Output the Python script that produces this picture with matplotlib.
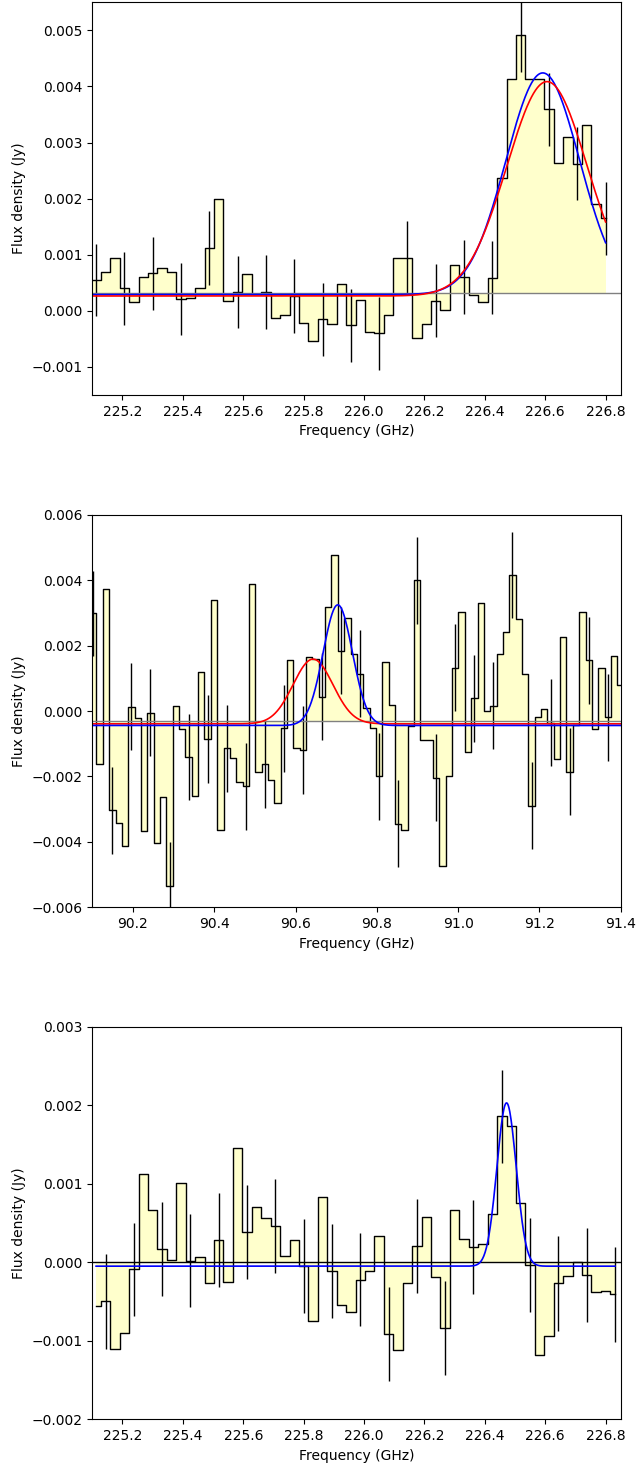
import numpy as np
import matplotlib
matplotlib.use("Agg")
import matplotlib.pyplot as plt

# channel widths (GHz)
dnu_hi = 0.03125
dnu_lo = 0.015625

# --- spectrum 1 (first point lies just outside the x range) ---
freq1 = 225.08125 + dnu_hi * np.arange(56)
flux1 = [0.00055, 0.00055, 0.00070, 0.00094, 0.00040, 0.00015, 0.00061, 0.00067,
         0.00076, 0.00070, 0.00021, 0.00023, 0.00040, 0.00112, 0.00199, 0.00018,
         0.00033, 0.00066, 0.00030, 0.00034, -0.00013, -0.00007, 0.00027, -0.00022,
         -0.00053, -0.00015, -0.00024, 0.00047, -0.00026, 0.00020, -0.00038, -0.00040,
         -0.00007, 0.00094, 0.00095, -0.00049, -0.00023, 0.00018, 0.00002, 0.00082,
         0.00061, 0.00028, 0.00016, 0.00059, 0.00237, 0.00413, 0.00491, 0.00413,
         0.00413, 0.00359, 0.00264, 0.00310, 0.00262, 0.00332, 0.00190, 0.00165]
err1 = [0.00065, 0.00065, 0.00065, 0.00064, 0.00066, 0.00064, 0.00066, 0.00066,
        0.00065, 0.00065, 0.00065, 0.00066, 0.00065, 0.00066, 0.00065, 0.00065,
        0.00065, 0.00065, 0.00065]
base1 = 0.00031
fit1_blue = (0.00029, 0.00395, 226.592, 0.122)   # cont, amp, centre, sigma
fit1_red = (0.000265, 0.00382, 226.606, 0.133)

# --- spectrum 2 ---
freq2 = 90.086875 + dnu_lo * np.arange(85)
flux2 = [0.00299, 0.00299, -0.00163, 0.00374, -0.00303, -0.00342, -0.00413, 0.00013,
         -0.00022, -0.00367, -0.00005, -0.00403, -0.00262, -0.00534, 0.00016, -0.00056,
         -0.00140, -0.00260, 0.00120, -0.00085, 0.00340, -0.00364, -0.00114, -0.00145,
         -0.00218, -0.00230, 0.00388, -0.00186, -0.00163, -0.00212, -0.00282, -0.00053,
         0.00156, -0.00114, -0.00119, 0.00166, 0.00158, 0.00044, 0.00319, 0.00479,
         0.00184, 0.00284, 0.00176, 0.00115, 0.00011, -0.00053, -0.00199, 0.00149,
         0.00018, -0.00344, -0.00364, -0.00045, 0.00400, -0.00089, -0.00089, -0.00204,
         -0.00474, -0.00199, 0.00133, 0.00302, -0.00126, 0.00039, 0.00331, 0.00000,
         0.00016, 0.00176, 0.00241, 0.00417, 0.00282, 0.00113, -0.00290, -0.00017,
         0.00006, -0.00036, -0.00146, 0.00227, -0.00186, -0.00043, 0.00302, 0.00156,
         -0.00055, 0.00131, -0.00019, 0.00169, 0.00080]
err2 = [0.00131, 0.00133, 0.00133, 0.00133, 0.00133, 0.00132, 0.00134, 0.00134,
        0.00133, 0.00133, 0.00133, 0.00134, 0.00133, 0.00133, 0.00133, 0.00133,
        0.00133, 0.00133, 0.00133, 0.00132, 0.00133, 0.00133, 0.00132, 0.00133,
        0.00133, 0.00133, 0.00133, 0.00133]
base2 = -0.00029
fit2_red = (-0.00039, 0.00198, 90.643, 0.049)
fit2_blue = (-0.00044, 0.00369, 90.704, 0.036)

# --- spectrum 3 ---
freq3 = 225.1125 + dnu_hi * np.arange(56)
flux3 = [-0.00056, -0.00050, -0.00111, -0.00090, -0.00009, 0.00112, 0.00066, 0.00017,
         0.00003, 0.00101, 0.00002, 0.00007, -0.00027, 0.00028, -0.00025, 0.00146,
         0.00039, 0.00070, 0.00056, 0.00046, 0.00008, 0.00028, -0.00005, -0.00075,
         0.00083, -0.00011, -0.00054, -0.00064, -0.00022, -0.00011, 0.00033, -0.00091,
         -0.00112, -0.00026, 0.00021, 0.00057, -0.00019, -0.00084, 0.00067, 0.00030,
         0.00019, 0.00023, 0.00061, 0.00186, 0.00173, 0.00075, -0.00004, -0.00118,
         -0.00094, -0.00027, -0.00018, 0.00000, -0.00016, -0.00038, -0.00036, -0.00041]
err3 = [0.00060, 0.00059, 0.00060, 0.00059, 0.00060, 0.00060, 0.00060, 0.00060,
        0.00060, 0.00059, 0.00060, 0.00060, 0.00060, 0.00060, 0.00059, 0.00060,
        0.00060, 0.00060, 0.00060]
base3 = 0.0
fit3_blue = (-0.00005, 0.00208, 226.472, 0.032)


def gauss(x, p):
    c, a, mu, sig = p
    return c + a * np.exp(-0.5 * ((x - mu) / sig) ** 2)


def spectrum(ax, freq, flux, err, base, fits, basecol):
    freq = np.asarray(freq)
    flux = np.asarray(flux)
    ax.fill_between(freq, flux, base, step='mid', color='#ffffcc', lw=0)
    ax.step(freq, flux, where='mid', color='k', lw=1)
    ax.errorbar(freq[1::3], flux[1::3], yerr=err, fmt='none', ecolor='k', elinewidth=1)
    ax.axhline(base, color=basecol, lw=1)
    xx = np.linspace(freq[0], freq[-1], 800)
    for p, col in fits:
        ax.plot(xx, gauss(xx, p), color=col, lw=1.2)
    ax.set_xlabel('Frequency (GHz)')
    ax.set_ylabel('Flux density (Jy)')


fig = plt.figure(figsize=(6.37, 14.68), dpi=100)
ax1 = fig.add_axes([0.1449, 0.7309, 0.8295, 0.2676])
ax2 = fig.add_axes([0.1449, 0.3820, 0.8295, 0.2672])
ax3 = fig.add_axes([0.1449, 0.0332, 0.8295, 0.2674])

spectrum(ax1, freq1, flux1, err1, base1, [(fit1_blue, 'b'), (fit1_red, 'r')], 'gray')
ax1.set_xlim(225.1, 226.85)
ax1.set_ylim(-0.0015, 0.0055)
ax1.set_xticks(np.arange(225.2, 226.81, 0.2))
ax1.set_yticks(np.arange(-0.001, 0.0051, 0.001))

spectrum(ax2, freq2, flux2, err2, base2, [(fit2_red, 'r'), (fit2_blue, 'b')], 'gray')
ax2.set_xlim(90.1, 91.4)
ax2.set_ylim(-0.006, 0.006)
ax2.set_xticks(np.arange(90.2, 91.41, 0.2))
ax2.set_yticks(np.arange(-0.006, 0.0061, 0.002))

spectrum(ax3, freq3, flux3, err3, base3, [(fit3_blue, 'b')], 'k')
ax3.set_xlim(225.1, 226.85)
ax3.set_ylim(-0.002, 0.003)
ax3.set_xticks(np.arange(225.2, 226.81, 0.2))
ax3.set_yticks(np.arange(-0.002, 0.0031, 0.001))

fig.savefig('out.png', dpi=100)
